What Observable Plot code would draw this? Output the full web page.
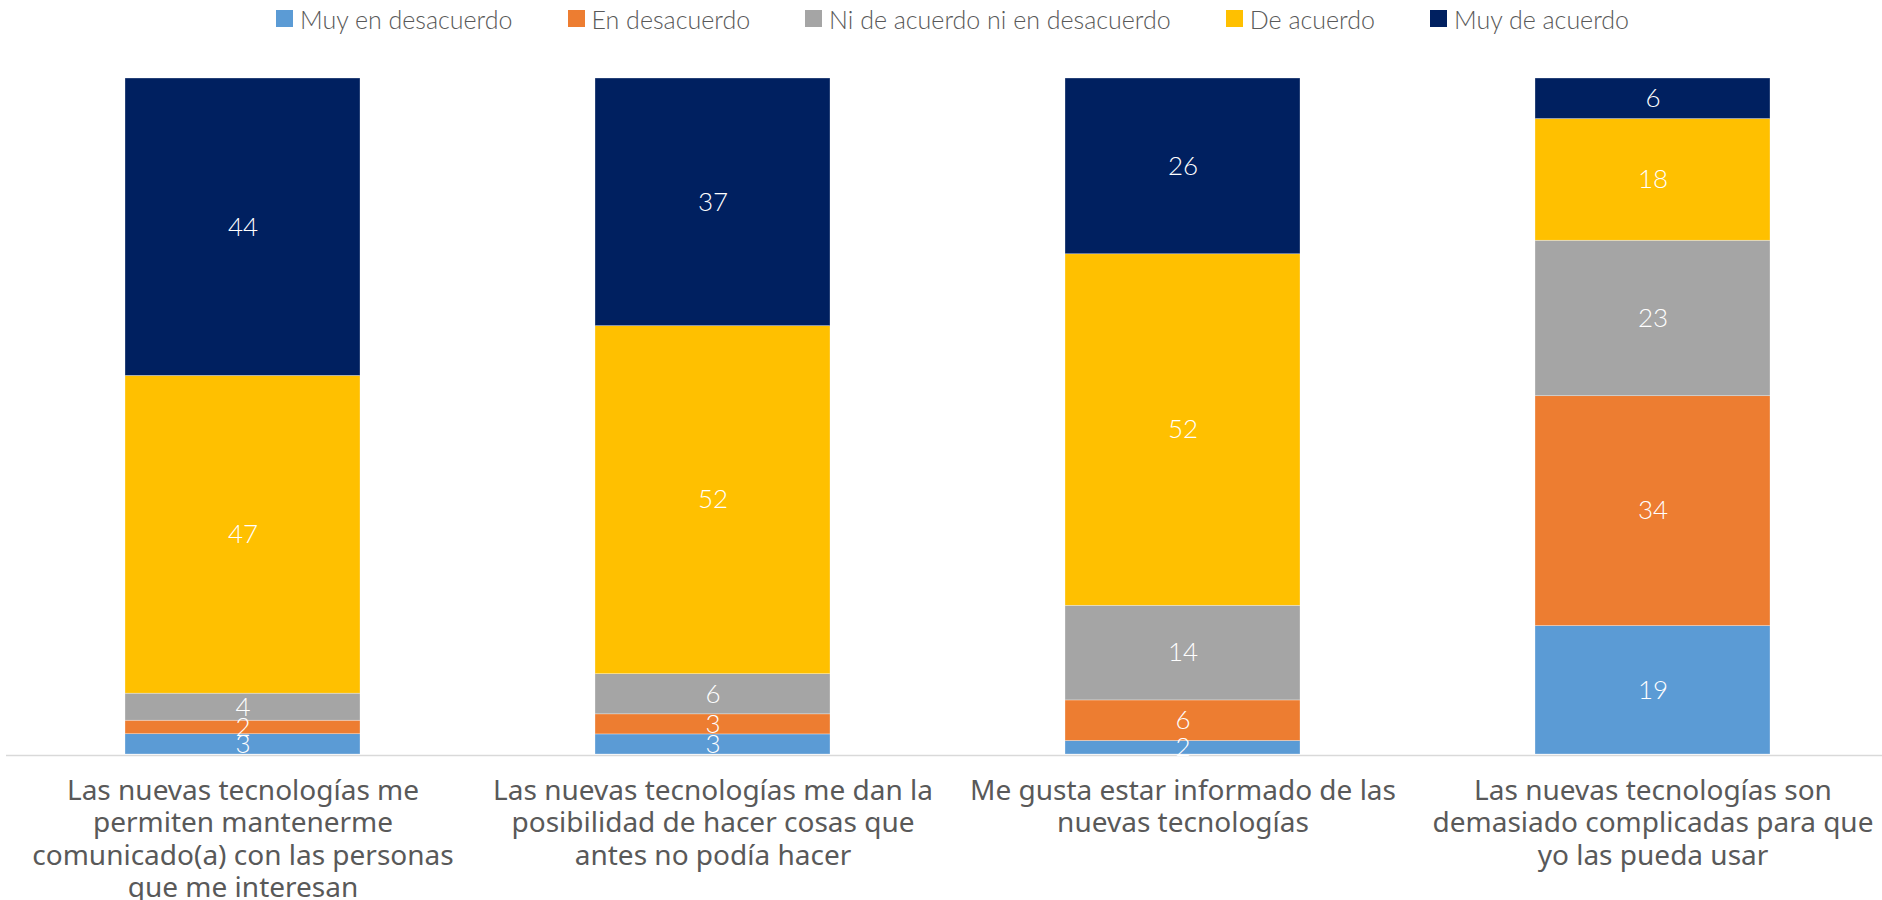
<!DOCTYPE html>
<html>
<head>
<meta charset="utf-8">
<script src="https://cdn.jsdelivr.net/npm/d3@7"></script>
<script src="https://cdn.jsdelivr.net/npm/@observablehq/plot@0.6"></script>
<style>
  html, body { margin: 0; padding: 0; background: #fff; overflow: hidden; }
  #legend { height: 40px; position: relative; display: flex; align-items: center; padding-left: 276px; padding-bottom: 3px; box-sizing: border-box; }
  .item { display: flex; align-items: center; margin-right: 55px; font-family: "Lato", sans-serif; font-weight: 300; font-size: 25px; color: #595959; white-space: nowrap; }
  .sw { width: 17px; height: 17px; margin-right: 7px; flex: none; }
  #chart svg { display: block; }
</style>
</head>
<body>
<div id="legend"></div>
<div id="chart"></div>
<script>
const categories = [
  "Las nuevas tecnologías me\npermiten mantenerme\ncomunicado(a) con las personas\nque me interesan",
  "Las nuevas tecnologías me dan la\nposibilidad de hacer cosas que\nantes no podía hacer",
  "Me gusta estar informado de las\nnuevas tecnologías",
  "Las nuevas tecnologías son\ndemasiado complicadas para que\nyo las pueda usar"
];
const seriesNames = ["Muy en desacuerdo", "En desacuerdo", "Ni de acuerdo ni en desacuerdo", "De acuerdo", "Muy de acuerdo"];
const seriesColors = ["#5B9BD5", "#ED7D31", "#A5A5A5", "#FFC000", "#002060"];
const muyEnDesacuerdo = [3, 3, 2, 19];
const enDesacuerdo = [2, 3, 6, 34];
const niNi = [4, 6, 14, 23];
const deAcuerdo = [47, 52, 52, 18];
const muyDeAcuerdo = [44, 37, 26, 6];

const seriesValues = [muyEnDesacuerdo, enDesacuerdo, niNi, deAcuerdo, muyDeAcuerdo];
const data = [];
categories.forEach((c, i) => {
  seriesNames.forEach((s, j) => {
    data.push({category: c, series: s, value: seriesValues[j][i]});
  });
});

// legend
const legend = document.getElementById("legend");
seriesNames.forEach((s, j) => {
  const it = document.createElement("div");
  it.className = "item";
  const sw = document.createElement("span");
  sw.className = "sw";
  sw.style.background = seriesColors[j];
  const t = document.createElement("span");
  t.textContent = s;
  it.appendChild(sw);
  it.appendChild(t);
  legend.appendChild(it);
});

const chart = Plot.plot({
  width: 1882,
  height: 860,
  marginTop: 38,
  marginBottom: 146,
  marginLeft: 6,
  marginRight: 0,
  style: {fontFamily: "'Noto Sans', sans-serif", background: "#fff"},
  x: {domain: categories, range: [6, 1888], paddingInner: 0.5, paddingOuter: 0.25, label: null},
  y: {domain: [0, 1], axis: null},
  color: {domain: seriesNames, range: seriesColors},
  marks: [
    Plot.barY(data, Plot.stackY({
      x: "category", y: "value", z: "series", fill: "series", offset: "normalize",
      stroke: "white", strokeWidth: 0.6, strokeOpacity: 0.5
    })),
    Plot.ruleY([0], {stroke: "#d9d9d9", strokeWidth: 1.5, dy: 1}),
    Plot.text(data, Plot.stackY({
      x: "category", y: "value", z: "series", offset: "normalize", text: "value",
      fill: "white", fontSize: 26, fontWeight: 300, fontFamily: "Lato, sans-serif"
    })),
    Plot.axisX({
      tickSize: 0, tickPadding: 22, fontSize: 28, lineHeight: 1.16,
      fill: "#595959", fontWeight: 400, label: null
    })
  ]
});
document.getElementById("chart").appendChild(chart);
</script>
</body>
</html>
